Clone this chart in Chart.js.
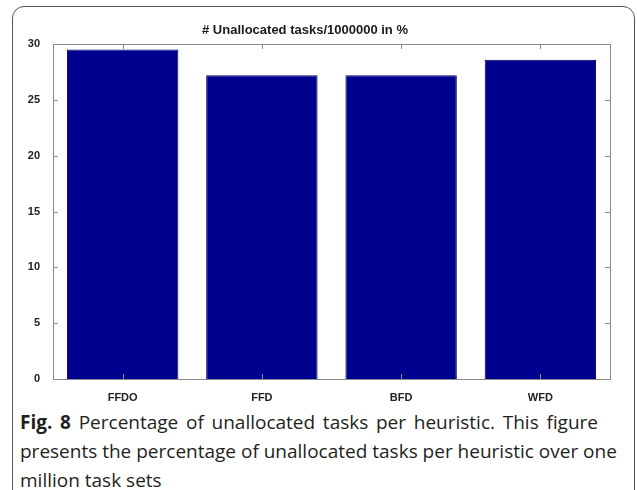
<!DOCTYPE html>
<html>
<head>
<meta charset="utf-8">
<script src="https://cdn.jsdelivr.net/npm/chart.js@4"></script>
<style>
  body { margin: 0; background: #fff; width: 637px; height: 490px; overflow: hidden; position: relative; }
  #frame {
    position: absolute; left: 12px; top: 6px; width: 623px; height: 520px;
    border: 1px solid #555; border-radius: 12px; box-sizing: border-box;
  }
  #wrap { position: absolute; left: 0; top: 0; width: 637px; height: 405px; }
  #caption {
    position: absolute; left: 20px; top: 408px;
    font-family: "Open Sans", sans-serif; font-size: 19px; line-height: 29px; color: #231f20;
  }
  #caption div { white-space: nowrap; text-align: justify; text-align-last: justify; }
  #caption .l1 { width: 578px; }
  #caption .l2 { width: 594px; }
  #caption .l3 { text-align: left; text-align-last: left; }
  #caption b { font-weight: 700; }
</style>
</head>
<body>
<div id="frame"></div>
<div id="wrap"><canvas id="chart" width="637" height="405"></canvas></div>
<div id="caption">
  <div class="l1"><b>Fig. 8</b> Percentage of unallocated tasks per heuristic. This figure</div>
  <div class="l2">presents the percentage of unallocated tasks per heuristic over one</div>
  <div class="l3">million task sets</div>
</div>
<script>
const heuristics = ['FFDO', 'FFD', 'BFD', 'WFD'];
const unallocatedPct = [29.5, 27.2, 27.2, 28.6];
const yTicks = [0, 5, 10, 15, 20, 25, 30];
const chartTitle = '# Unallocated tasks/1000000 in %';

// matlab style box with inward ticks on all four sides
const boxPlugin = {
    id: 'box',
    afterDraw(chart) {
        const { ctx, chartArea: a, scales } = chart;
        ctx.save();
        ctx.strokeStyle = '#8a8a8a';
        ctx.lineWidth = 1;
        ctx.strokeRect(a.left + 0.5, a.top + 0.5, a.right - a.left, a.bottom - a.top);
        ctx.beginPath();
        yTicks.forEach(v => {
            const y = Math.round(scales.y.getPixelForValue(v)) + 0.5;
            ctx.moveTo(a.left, y); ctx.lineTo(a.left + 5, y);
            ctx.moveTo(a.right, y); ctx.lineTo(a.right - 5, y);
        });
        heuristics.forEach((h, i) => {
            const x = Math.round(scales.x.getPixelForValue(i)) + 0.5;
            ctx.moveTo(x, a.top); ctx.lineTo(x, a.top + 5);
            ctx.moveTo(x, a.bottom); ctx.lineTo(x, a.bottom - 5);
        });
        ctx.stroke();
        ctx.restore();
    }
};

new Chart(document.getElementById('chart'), {
    type: 'bar',
    data: {
        labels: heuristics,
        datasets: [{
            data: unallocatedPct,
            backgroundColor: '#00008f',
            borderColor: '#00005a',
            borderWidth: 1,
            barPercentage: 0.8,
            categoryPercentage: 1.0
        }]
    },
    options: {
        responsive: false,
        animation: false,
        layout: { padding: { left: 0, right: 27, top: 0, bottom: 0 } },
        plugins: {
            legend: { display: false },
            tooltip: { enabled: false },
            title: {
                display: true,
                text: chartTitle,
                color: '#1a1a1a',
                font: { family: 'Liberation Sans, Arial', size: 13, weight: 'bold' },
                padding: { top: 23, bottom: 5.4 }
            }
        },
        scales: {
            x: {
                grid: { display: false },
                border: { display: false },
                ticks: { color: '#222', font: { family: 'Liberation Sans, Arial', size: 11, weight: 'bold' }, padding: 4 },
                afterFit(scale) { scale.height = 26; }
            },
            y: {
                min: 0,
                max: 30,
                afterBuildTicks(scale) { scale.ticks = yTicks.map(v => ({ value: v })); },
                grid: { display: false },
                border: { display: false },
                ticks: { color: '#222', font: { family: 'Liberation Sans, Arial', size: 11, weight: 'bold' }, padding: 5 },
                afterFit(scale) { scale.width = 53; }
            }
        }
    },
    plugins: [boxPlugin]
});
</script>
</body>
</html>
